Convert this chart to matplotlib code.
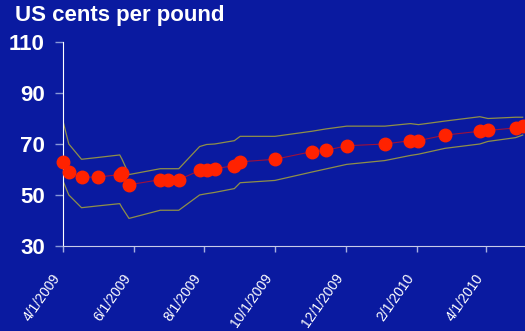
import numpy as np
import pandas as pd
import matplotlib
matplotlib.use("Agg")
import matplotlib.pyplot as plt
import matplotlib.dates as mdates
from matplotlib.ticker import FuncFormatter

# observation dates and prices (US cents per pound)
dates = ["2009-04-01", "2009-04-06", "2009-04-17", "2009-05-01", "2009-05-20",
         "2009-05-22", "2009-05-28", "2009-06-24", "2009-07-01", "2009-07-10",
         "2009-07-28", "2009-08-03", "2009-08-10", "2009-08-27", "2009-09-01",
         "2009-10-01", "2009-11-02", "2009-11-14", "2009-12-02", "2010-01-04",
         "2010-01-26", "2010-02-02", "2010-02-25", "2010-03-27", "2010-04-03",
         "2010-04-27", "2010-05-03"]
price = [63, 59, 57, 57, 58, 58.5, 54, 56, 56, 56,
         59.6, 59.6, 60.3, 61.5, 63, 64, 67, 67.5, 69.3, 70,
         71.3, 71.3, 73.5, 75, 75.3, 76.3, 77]
upper = [79, 70, 64, 64.7, 65.7, 64, 58, 60.3, 60.3, 60.3,
         69, 69.8, 70, 71.3, 73, 73, 75, 75.9, 77, 77,
         78, 77.6, 79, 80.7, 80, 80.5, 80.5]
lower = [55.5, 50, 45, 45.7, 46.6, 45, 40.8, 44, 44, 44,
         50, 50.5, 51, 52.5, 54.8, 55.7, 59, 60.2, 62, 63.5,
         65.5, 66, 68.3, 70, 71, 72.5, 73.5]

yticks = [30, 50, 70, 90, 110]

bg = "#0a1aa0"
x = pd.to_datetime(dates)

fig = plt.figure(figsize=(5.25, 3.31), dpi=100, facecolor=bg)
ax = fig.add_axes([0.12, 0.257, 0.88, 0.616], facecolor=bg)

ax.plot(x, upper, color="#8f8f48", lw=0.9)
ax.plot(x, lower, color="#8f8f48", lw=0.9)
ax.plot(x, price, color="#a0103a", lw=0.8)
ax.plot(x, price, "o", color="#ff2200", ms=9, mec="#ff2200", clip_on=False,
        zorder=5)

ax.set_ylim(30, 110)
ax.set_yticks(yticks)
ax.set_xlim(pd.Timestamp("2009-04-01"), pd.Timestamp("2010-05-05"))
ax.xaxis.set_major_locator(mdates.MonthLocator(bymonth=[2, 4, 6, 8, 10, 12]))
ax.xaxis.set_major_formatter(FuncFormatter(
    lambda v, pos: "{0}/{1}/{2}".format(mdates.num2date(v).month,
                                       mdates.num2date(v).day,
                                       mdates.num2date(v).year)))

for s in ["top", "right"]:
    ax.spines[s].set_visible(False)
ax.spines["left"].set_color("white")
ax.spines["bottom"].set_color("#c8cce8")

ax.tick_params(axis="y", colors="#8898d8", length=6, width=1, pad=7,
               labelcolor="white", labelsize=16)
for t in ax.get_yticklabels():
    t.set_fontweight("bold")
    t.set_family("Liberation Sans")
ax.tick_params(axis="x", colors="#a8b0e0", length=4, width=1, pad=20,
               labelcolor="white", labelsize=10)
for t in ax.get_xticklabels():
    t.set_rotation(55)
    t.set_ha("right")
    t.set_va("bottom")
    t.set_rotation_mode("anchor")
    t.set_family("Liberation Sans")

fig.text(0.028, 0.985, "US cents per pound", color="white", fontsize=16,
         fontweight="bold", family="Liberation Sans", va="top", ha="left")

fig.savefig("out.png", dpi=100, facecolor=bg)
